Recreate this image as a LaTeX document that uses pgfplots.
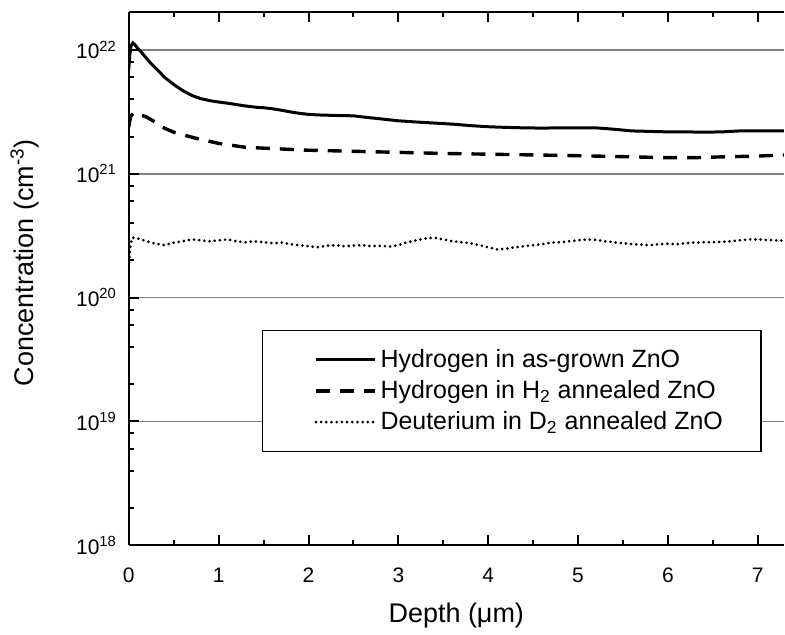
\documentclass[border=0pt]{standalone}
\usepackage{fontspec}
\setmainfont{Liberation Sans}
\usepackage{pgfplots}
\pgfplotsset{compat=1.18}
\begin{document}
\begin{tikzpicture}
\begin{axis}[
  name=ax,
  scale only axis,
  width=328pt, height=267pt,
  xmin=0, xmax=7.29,
  ymode=log, ymin=1e18, ymax=2.03e22,
  axis y line*=left,
  y axis line style={-},
  axis line style={line width=1.2pt},
  xtick={0,1,2,3,4,5,6,7},
  minor xtick={0.5,1.5,2.5,3.5,4.5,5.5,6.5},
  ytick={1e18,1e19,1e20,1e21,1e22},
  yticklabels={10\textsuperscript{18},10\textsuperscript{19},10\textsuperscript{20},10\textsuperscript{21},10\textsuperscript{22}},
  minor ytick={2e18,4e18,6e18,8e18,2e19,4e19,6e19,8e19,2e20,4e20,6e20,8e20,2e21,4e21,6e21,8e21},
  tick align=inside,
  major tick length=5pt, minor tick length=2.5pt,
  every tick/.style={black, line width=1pt},
  ymajorgrids,
  grid style={gray, line width=0.75pt},
  /pgf/number format/assume math mode=true,
  tick label style={font=\fontsize{10.5}{12}\selectfont},
  xticklabel style={yshift=-8pt},
  yticklabel style={xshift=-2.5pt},
  xlabel={Depth (μm)},
  ylabel={Concentration (cm\textsuperscript{-3})},
  every axis x label/.style={at={([yshift=-38.5pt]rel axis cs:0.5,0)}, anchor=base, font=\fontsize{13.5}{16}\selectfont},
  every axis y label/.style={at={([xshift=-52pt]rel axis cs:0,0.53)}, rotate=90, anchor=center, font=\fontsize{13.5}{16}\selectfont},
  legend cell align=left,
  legend style={at={(0.966,0.174)}, anchor=south east, draw=black, line width=0.75pt,
    font=\fontsize{12.5}{15}\selectfont, inner xsep=17pt, inner ysep=7.5pt,
    row sep=1pt},
  legend image code/.code={\path (-9pt,0pt); \draw[#1] (0pt,0pt) -- (29.5pt,0pt);},
]
\addplot[black, line width=1.5pt] coordinates {
(0,7.0e21) (0.01,9.0e21) (0.025,1.08e22) (0.045,1.14e22) (0.07,1.10e22) (0.1,1.03e22)
(0.14,9.6e21) (0.2,8.5e21) (0.26,7.6e21) (0.32,6.9e21) (0.4,6.0e21) (0.51,5.2e21)
(0.6,4.7e21) (0.7,4.3e21) (0.8,4.05e21) (0.9,3.9e21) (1.0,3.8e21) (1.1,3.72e21)
(1.2,3.62e21) (1.3,3.53e21) (1.43,3.44e21) (1.5,3.42e21) (1.6,3.35e21) (1.7,3.26e21)
(1.8,3.16e21) (1.9,3.08e21) (2.0,3.02e21) (2.1,2.99e21) (2.3,2.96e21) (2.5,2.94e21)
(2.6,2.88e21) (2.8,2.78e21) (3.0,2.68e21) (3.2,2.62e21) (3.4,2.57e21) (3.6,2.52e21)
(3.8,2.45e21) (4.0,2.4e21) (4.2,2.37e21) (4.4,2.35e21) (4.6,2.34e21) (4.8,2.35e21)
(5.0,2.35e21) (5.2,2.35e21) (5.4,2.29e21) (5.6,2.22e21) (5.8,2.2e21) (6.0,2.18e21)
(6.2,2.18e21) (6.4,2.17e21) (6.6,2.18e21) (6.8,2.22e21) (7.0,2.22e21) (7.29,2.22e21)
};
\addlegendentry{Hydrogen in as-grown ZnO}
\addplot[black, line width=1.7pt, dash pattern=on 7pt off 5pt] coordinates {
(0,2.4e21) (0.02,2.9e21) (0.05,3.1e21) (0.1,3.05e21) (0.2,2.87e21) (0.3,2.6e21)
(0.4,2.33e21) (0.5,2.17e21) (0.62,2.05e21) (0.73,1.95e21) (0.84,1.87e21) (1.0,1.76e21)
(1.07,1.73e21) (1.29,1.64e21) (1.51,1.61e21) (1.75,1.58e21) (2.0,1.55e21) (2.5,1.52e21)
(3.0,1.49e21) (3.5,1.46e21) (4.0,1.44e21) (4.5,1.42e21) (5.0,1.40e21) (5.2,1.39e21)
(5.6,1.37e21) (6.0,1.35e21) (6.3,1.35e21) (6.6,1.37e21) (7.0,1.39e21) (7.29,1.42e21)
};
\addlegendentry{Hydrogen in H\textsubscript{2} annealed ZnO}
\addplot[black, line width=1.5pt, line cap=round, dash pattern=on 0pt off 2.6pt] coordinates {
(0,1.75e20) (0.01,2.2e20) (0.02,2.7e20) (0.04,3.05e20) (0.1,3.0e20) (0.2,2.85e20)
(0.3,2.72e20) (0.4,2.65e20) (0.5,2.78e20) (0.6,2.85e20) (0.7,2.95e20) (0.8,2.9e20)
(0.9,2.85e20) (1.0,2.9e20) (1.1,2.95e20) (1.2,2.85e20) (1.3,2.8e20) (1.4,2.85e20)
(1.5,2.8e20) (1.6,2.75e20) (1.7,2.78e20) (1.8,2.7e20) (1.9,2.65e20) (2.0,2.6e20)
(2.1,2.55e20) (2.2,2.62e20) (2.3,2.65e20) (2.4,2.6e20) (2.5,2.63e20) (2.6,2.65e20)
(2.7,2.6e20) (2.8,2.62e20) (2.9,2.58e20) (3.0,2.65e20) (3.1,2.8e20) (3.2,2.9e20)
(3.3,3.0e20) (3.4,3.05e20) (3.5,2.95e20) (3.6,2.85e20) (3.7,2.8e20) (3.8,2.75e20)
(3.9,2.65e20) (4.0,2.55e20) (4.1,2.45e20) (4.2,2.48e20) (4.3,2.55e20) (4.4,2.6e20)
(4.5,2.65e20) (4.6,2.7e20) (4.7,2.78e20) (4.8,2.8e20) (4.9,2.85e20) (5.0,2.9e20)
(5.1,2.95e20) (5.2,2.92e20) (5.3,2.85e20) (5.4,2.8e20) (5.5,2.75e20) (5.6,2.7e20)
(5.7,2.68e20) (5.8,2.65e20) (5.9,2.7e20) (6.0,2.72e20) (6.1,2.7e20) (6.2,2.75e20)
(6.3,2.78e20) (6.4,2.8e20) (6.5,2.8e20) (6.6,2.82e20) (6.7,2.85e20) (6.8,2.9e20)
(6.9,2.95e20) (7.0,2.95e20) (7.1,2.92e20) (7.2,2.9e20) (7.29,2.88e20)
};
\addlegendentry{Deuterium in D\textsubscript{2} annealed ZnO}
\end{axis}
\path ([xshift=-64.5pt,yshift=-44.5pt]ax.south west) rectangle ([yshift=6pt]ax.north east);
\end{tikzpicture}
\end{document}
